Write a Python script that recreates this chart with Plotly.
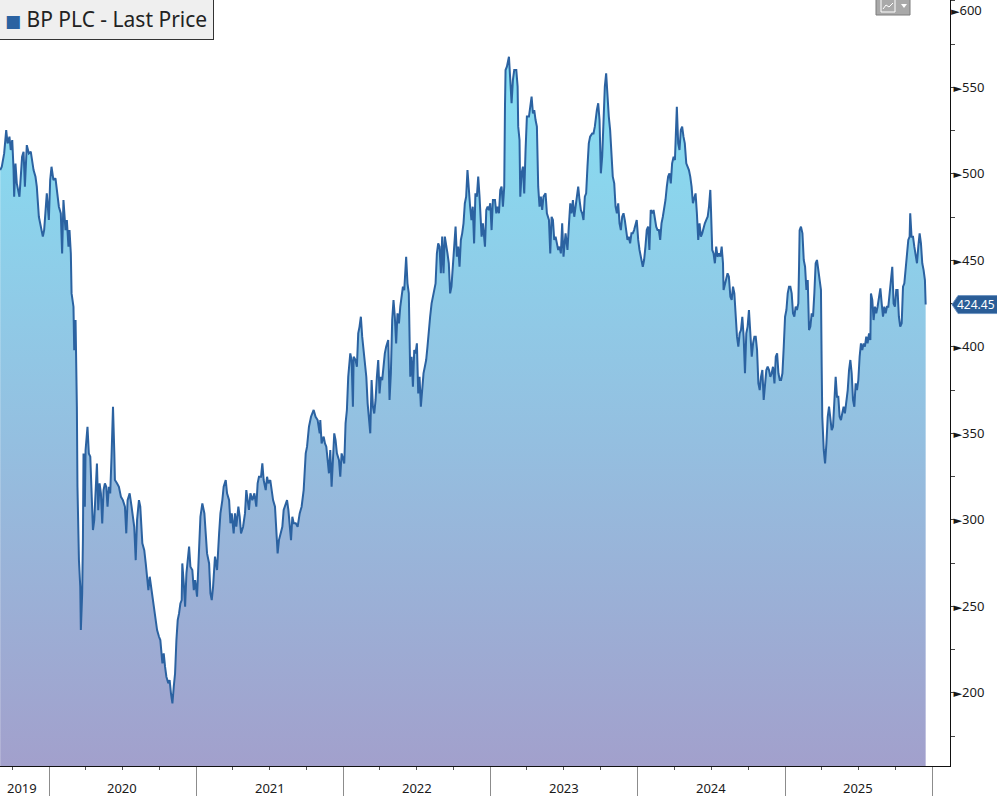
import plotly.graph_objects as go
from datetime import datetime, timedelta

# ---------------- data (time as fractional year, price in GBp) ----------------
t_2019_20 = [2019.667, 2019.678, 2019.694, 2019.708, 2019.717, 2019.730, 2019.739, 2019.749, 2019.758, 2019.762,
             2019.771, 2019.780, 2019.798, 2019.816, 2019.826, 2019.835, 2019.848, 2019.862, 2019.875, 2019.884,
             2019.894, 2019.907, 2019.916, 2019.930, 2019.939, 2019.948, 2019.957, 2019.966, 2019.975, 2019.984,
             2019.998, 2020.007, 2020.016, 2020.029, 2020.043, 2020.057, 2020.066, 2020.079, 2020.088, 2020.097,
             2020.111, 2020.120, 2020.131, 2020.138, 2020.147, 2020.152, 2020.165, 2020.170, 2020.179, 2020.188,
             2020.192, 2020.202, 2020.211, 2020.215, 2020.224, 2020.229, 2020.233, 2020.242, 2020.247, 2020.260,
             2020.269, 2020.279, 2020.288, 2020.297, 2020.306, 2020.315, 2020.324, 2020.333, 2020.342, 2020.351,
             2020.360, 2020.369, 2020.378, 2020.387, 2020.396, 2020.405, 2020.414, 2020.423, 2020.433, 2020.442,
             2020.446, 2020.460, 2020.473, 2020.487, 2020.500, 2020.514, 2020.523, 2020.532, 2020.546, 2020.559,
             2020.568, 2020.577, 2020.587, 2020.596, 2020.609, 2020.618, 2020.632, 2020.645, 2020.655, 2020.664,
             2020.673, 2020.682, 2020.691, 2020.704, 2020.713, 2020.722, 2020.732, 2020.745, 2020.754]
p_2019_20 = [502.2, 504.1, 511.8, 525.3, 517.6, 521.5, 513.8, 519.5, 502.2, 486.8,
             506.0, 494.5, 486.8, 509.9, 512.8, 492.6, 516.6, 511.8, 512.8, 506.0,
             502.2, 498.3, 492.6, 475.2, 471.4, 465.6, 463.7, 467.5, 481.0, 488.7,
             473.3, 496.4, 504.1, 496.4, 497.4, 484.9, 481.0, 477.1, 454.0, 484.9,
             467.5, 473.3, 457.9, 467.5, 454.0, 430.9, 423.2, 398.1, 415.5, 365.4,
             319.1, 276.7, 261.3, 236.3, 257.5, 288.3, 338.4, 307.6, 340.3, 353.8,
             338.4, 336.5, 313.3, 294.1, 299.9, 319.1, 332.6, 305.6, 321.1, 315.3,
             297.9, 317.2, 321.1, 319.1, 307.6, 319.1, 315.3, 336.5, 365.4, 338.4,
             323.0, 321.1, 319.1, 313.3, 311.4, 307.6, 292.2, 311.4, 315.3, 307.6,
             299.9, 296.0, 276.7, 299.9, 311.4, 307.6, 286.4, 282.5, 274.8, 265.2,
             259.4, 267.1, 261.3, 255.5, 249.8, 242.0, 236.3, 232.4, 230.5]

t_2020_21 = [2020.768, 2020.777, 2020.786, 2020.795, 2020.808, 2020.817, 2020.826, 2020.836, 2020.845, 2020.854,
             2020.863, 2020.872, 2020.881, 2020.890, 2020.899, 2020.903, 2020.913, 2020.922, 2020.931, 2020.940,
             2020.949, 2020.958, 2020.971, 2020.981, 2020.990, 2021.003, 2021.017, 2021.026, 2021.039, 2021.053,
             2021.062, 2021.071, 2021.085, 2021.094, 2021.103, 2021.112, 2021.125, 2021.139, 2021.153, 2021.162,
             2021.175, 2021.184, 2021.198, 2021.207, 2021.221, 2021.230, 2021.239, 2021.252, 2021.261, 2021.270,
             2021.284, 2021.293, 2021.302, 2021.316, 2021.329, 2021.338, 2021.347, 2021.356, 2021.366, 2021.379,
             2021.393, 2021.406, 2021.415, 2021.424, 2021.438, 2021.447, 2021.456, 2021.470, 2021.479, 2021.488,
             2021.501, 2021.511, 2021.520, 2021.533, 2021.542, 2021.551, 2021.560, 2021.574, 2021.583, 2021.592,
             2021.606, 2021.615, 2021.624, 2021.633, 2021.642, 2021.651, 2021.660, 2021.674, 2021.687, 2021.701,
             2021.714, 2021.728, 2021.742, 2021.751, 2021.764, 2021.778, 2021.796, 2021.809, 2021.823, 2021.837]
p_2020_21 = [217.0, 222.8, 215.1, 209.3, 205.5, 207.4, 199.7, 193.9, 203.5, 211.3,
             230.5, 242.1, 245.9, 251.7, 253.6, 274.8, 263.3, 249.8, 269.1, 276.8,
             284.5, 272.9, 271.0, 259.4, 265.2, 255.6, 288.3, 301.8, 309.5, 303.7,
             292.2, 280.6, 274.8, 257.5, 253.6, 261.3, 278.7, 271.0, 292.2, 303.7,
             311.4, 319.2, 323.0, 315.3, 311.4, 298.0, 303.7, 292.2, 303.7, 296.0,
             307.6, 301.8, 292.2, 296.0, 303.7, 317.2, 311.4, 305.7, 315.3, 311.4,
             315.3, 307.6, 321.1, 324.9, 324.9, 332.6, 323.0, 317.2, 324.9, 321.1,
             323.0, 317.2, 311.4, 307.6, 296.0, 280.6, 288.3, 292.2, 296.0, 305.7,
             309.5, 311.4, 305.7, 296.0, 288.3, 301.8, 298.0, 298.0, 296.0, 303.7,
             307.6, 317.2, 338.4, 342.3, 353.8, 359.6, 363.5, 359.6, 357.7, 350.0]

t_2021_22 = [2021.841, 2021.850, 2021.864, 2021.873, 2021.882, 2021.891, 2021.900, 2021.909, 2021.918, 2021.927,
             2021.936, 2021.945, 2021.954, 2021.968, 2021.977, 2021.986, 2021.995, 2022.004, 2022.013, 2022.022,
             2022.031, 2022.045, 2022.054, 2022.063, 2022.068, 2022.081, 2022.090, 2022.099, 2022.108, 2022.117,
             2022.126, 2022.135, 2022.145, 2022.154, 2022.163, 2022.172, 2022.181, 2022.190, 2022.199, 2022.208,
             2022.217, 2022.226, 2022.235, 2022.244, 2022.253, 2022.262, 2022.271, 2022.280, 2022.289, 2022.303,
             2022.312, 2022.321, 2022.330, 2022.339, 2022.348, 2022.357, 2022.366, 2022.376, 2022.385, 2022.394,
             2022.403, 2022.412, 2022.421, 2022.425, 2022.434, 2022.443, 2022.453, 2022.462, 2022.471, 2022.480,
             2022.489, 2022.498, 2022.507, 2022.516, 2022.525, 2022.534, 2022.543, 2022.552, 2022.561, 2022.570,
             2022.579, 2022.588, 2022.598, 2022.607, 2022.616, 2022.625, 2022.634, 2022.643, 2022.652, 2022.661,
             2022.670, 2022.679, 2022.688, 2022.697, 2022.706, 2022.715, 2022.724, 2022.733, 2022.742, 2022.752,
             2022.761, 2022.770, 2022.779, 2022.788, 2022.797, 2022.806, 2022.815, 2022.824, 2022.833, 2022.842,
             2022.851, 2022.860, 2022.869, 2022.878, 2022.887, 2022.896, 2022.906, 2022.915, 2022.924]
p_2021_22 = [357.7, 344.2, 348.1, 344.2, 342.3, 334.6, 326.9, 340.4, 319.2, 334.6,
             350.0, 346.1, 338.4, 334.6, 324.9, 338.4, 334.6, 332.6, 355.8, 363.5,
             382.7, 396.2, 392.4, 365.4, 394.3, 392.4, 388.5, 407.8, 411.7, 417.4,
             405.9, 398.2, 390.5, 382.7, 367.3, 357.7, 350.0, 380.8, 365.4, 361.5,
             369.3, 382.7, 392.4, 373.1, 382.7, 380.8, 390.5, 396.2, 400.1, 404.0,
             369.3, 384.7, 415.5, 427.1, 417.4, 402.0, 419.4, 413.6, 423.2, 429.0,
             434.8, 432.8, 450.2, 452.1, 436.7, 430.9, 382.7, 394.3, 377.0, 398.2,
             396.2, 402.0, 373.1, 382.7, 365.4, 377.0, 384.7, 388.5, 392.4, 400.1,
             411.7, 417.4, 425.1, 429.0, 430.9, 436.7, 454.0, 459.8, 457.9, 442.5,
             463.7, 442.5, 463.7, 459.8, 454.0, 448.3, 430.9, 434.8, 448.3, 459.8,
             469.5, 452.1, 457.9, 446.3, 461.8, 465.6, 471.4, 482.9, 486.8, 502.2,
             488.7, 481.0, 473.3, 481.0, 459.8, 488.7, 486.8, 498.4, 486.8]

t_2022_24 = [2022.938, 2022.947, 2022.961, 2022.970, 2022.979, 2022.988, 2022.997, 2023.006, 2023.015, 2023.029,
             2023.038, 2023.047, 2023.056, 2023.065, 2023.074, 2023.083, 2023.092, 2023.097, 2023.101, 2023.110,
             2023.124, 2023.133, 2023.142, 2023.151, 2023.160, 2023.174, 2023.183, 2023.187, 2023.196, 2023.201,
             2023.210, 2023.219, 2023.228, 2023.237, 2023.246, 2023.260, 2023.269, 2023.278, 2023.287, 2023.296,
             2023.305, 2023.314, 2023.323, 2023.332, 2023.341, 2023.350, 2023.359, 2023.373, 2023.382, 2023.396,
             2023.405, 2023.414, 2023.423, 2023.432, 2023.441, 2023.450, 2023.459, 2023.468, 2023.477, 2023.486,
             2023.495, 2023.509, 2023.522, 2023.531, 2023.541, 2023.550, 2023.559, 2023.568, 2023.577, 2023.586,
             2023.595, 2023.604, 2023.613, 2023.622, 2023.631, 2023.640, 2023.649, 2023.658, 2023.667, 2023.676,
             2023.690, 2023.699, 2023.708, 2023.722, 2023.731, 2023.740, 2023.749, 2023.758, 2023.767, 2023.776,
             2023.785, 2023.794, 2023.803, 2023.812, 2023.821, 2023.830, 2023.840, 2023.849, 2023.858, 2023.867,
             2023.876, 2023.885, 2023.894, 2023.903, 2023.912, 2023.921, 2023.930, 2023.939, 2023.948, 2023.957,
             2023.966, 2023.975, 2023.984, 2023.993, 2024.003, 2024.012]
p_2022_24 = [463.7, 471.4, 457.9, 479.1, 481.0, 479.1, 483.0, 467.5, 484.9, 484.9,
             477.2, 481.0, 477.2, 490.7, 492.6, 481.0, 492.6, 538.8, 560.0, 562.0,
             567.7, 554.3, 540.8, 554.3, 560.0, 560.0, 550.4, 527.3, 519.6, 486.8,
             500.3, 504.2, 488.7, 513.8, 533.1, 533.1, 540.8, 544.6, 535.0, 536.9,
             531.1, 527.3, 492.6, 481.0, 486.8, 479.1, 486.8, 488.7, 477.2, 473.3,
             454.0, 475.2, 473.3, 461.8, 463.7, 459.8, 456.0, 457.9, 454.0, 471.4,
             452.1, 465.6, 456.0, 469.5, 483.0, 477.2, 484.9, 475.2, 481.0, 488.7,
             492.6, 484.9, 479.1, 477.2, 473.3, 486.8, 488.7, 504.2, 517.6, 521.5,
             523.4, 523.4, 527.3, 536.9, 540.8, 531.1, 500.3, 509.9, 535.0, 550.4,
             558.1, 542.7, 533.1, 525.4, 509.9, 498.4, 494.5, 481.0, 477.2, 483.0,
             471.4, 467.5, 475.2, 477.2, 473.3, 465.6, 461.8, 463.7, 459.8, 465.6,
             465.6, 467.5, 471.4, 473.3, 461.8, 456.0]

t_2024_25 = [2024.034, 2024.043, 2024.052, 2024.061, 2024.070, 2024.079, 2024.088, 2024.098, 2024.107, 2024.116,
             2024.125, 2024.134, 2024.143, 2024.152, 2024.161, 2024.170, 2024.179, 2024.188, 2024.197, 2024.206,
             2024.215, 2024.224, 2024.233, 2024.243, 2024.252, 2024.256, 2024.265, 2024.274, 2024.283, 2024.292,
             2024.301, 2024.310, 2024.319, 2024.329, 2024.338, 2024.347, 2024.356, 2024.365, 2024.374, 2024.383,
             2024.392, 2024.401, 2024.410, 2024.419, 2024.428, 2024.437, 2024.446, 2024.455, 2024.464, 2024.474,
             2024.483, 2024.492, 2024.496, 2024.505, 2024.514, 2024.523, 2024.532, 2024.541, 2024.551, 2024.560,
             2024.569, 2024.578, 2024.582, 2024.591, 2024.600, 2024.609, 2024.618, 2024.628, 2024.637, 2024.646,
             2024.655, 2024.664, 2024.673, 2024.682, 2024.691, 2024.700, 2024.709, 2024.718, 2024.727, 2024.736,
             2024.745, 2024.754, 2024.763, 2024.773, 2024.782, 2024.791, 2024.800, 2024.809, 2024.818, 2024.827,
             2024.836, 2024.845, 2024.854, 2024.863, 2024.872, 2024.881, 2024.890, 2024.899, 2024.908, 2024.917,
             2024.927, 2024.936, 2024.945, 2024.954, 2024.963, 2024.972, 2024.981, 2024.990, 2024.999, 2025.008,
             2025.017, 2025.026]
p_2024_25 = [446.3, 450.2, 457.9, 467.5, 469.5, 456.0, 479.1, 477.2, 479.1, 473.3,
             469.5, 467.5, 467.5, 461.8, 471.4, 475.2, 479.1, 484.9, 492.6, 498.4,
             500.3, 494.5, 506.1, 509.9, 508.0, 521.5, 538.8, 517.6, 513.8, 525.4,
             527.3, 521.5, 517.6, 506.1, 504.2, 502.2, 498.4, 492.6, 483.0, 486.8,
             488.7, 477.2, 461.8, 471.4, 463.7, 465.6, 469.5, 471.4, 473.3, 475.2,
             481.0, 490.7, 481.0, 456.0, 454.0, 448.3, 457.9, 452.1, 454.0, 452.1,
             457.9, 448.3, 432.9, 436.7, 438.6, 442.5, 440.6, 429.0, 427.1, 434.8,
             430.9, 413.6, 405.9, 400.1, 407.8, 409.7, 417.4, 405.9, 384.7, 407.8,
             411.7, 421.3, 405.9, 394.3, 402.0, 405.9, 405.9, 398.2, 378.9, 375.0,
             382.7, 386.6, 369.3, 378.9, 386.6, 388.5, 386.6, 382.7, 384.7, 388.5,
             378.9, 394.3, 396.2, 384.7, 380.8, 380.8, 384.7, 400.1, 417.4, 421.3,
             430.9, 434.8]

t_2025 = [2025.035, 2025.044, 2025.053, 2025.062, 2025.071, 2025.080, 2025.089, 2025.094, 2025.098, 2025.107,
          2025.117, 2025.126, 2025.135, 2025.144, 2025.153, 2025.162, 2025.171, 2025.180, 2025.189, 2025.198,
          2025.207, 2025.216, 2025.225, 2025.234, 2025.243, 2025.248, 2025.252, 2025.262, 2025.271, 2025.280,
          2025.289, 2025.298, 2025.307, 2025.316, 2025.325, 2025.334, 2025.343, 2025.352, 2025.361, 2025.370,
          2025.379, 2025.388, 2025.397, 2025.406, 2025.416, 2025.425, 2025.434, 2025.443, 2025.452, 2025.461,
          2025.470, 2025.479, 2025.488, 2025.497, 2025.506, 2025.515, 2025.524, 2025.533, 2025.542, 2025.551,
          2025.560, 2025.570, 2025.579, 2025.583, 2025.592, 2025.601, 2025.610, 2025.619, 2025.628, 2025.637,
          2025.647, 2025.656, 2025.665, 2025.674, 2025.683, 2025.692, 2025.701, 2025.710, 2025.719, 2025.728,
          2025.737, 2025.746, 2025.755, 2025.764, 2025.773, 2025.782, 2025.792, 2025.801, 2025.810, 2025.819,
          2025.828, 2025.837, 2025.846, 2025.850, 2025.859, 2025.869, 2025.878, 2025.887, 2025.896, 2025.905,
          2025.914, 2025.923, 2025.932, 2025.941, 2025.950, 2025.955]
p_2025 = [434.8, 430.9, 419.4, 417.4, 423.2, 421.3, 425.1, 446.3, 467.5, 469.5,
          465.6, 450.2, 446.3, 432.9, 438.6, 409.7, 411.7, 419.4, 417.4, 430.9,
          448.3, 450.2, 444.4, 436.7, 432.9, 388.5, 359.6, 340.4, 332.6, 344.2,
          359.6, 365.4, 359.6, 351.9, 353.8, 367.3, 382.7, 371.2, 371.2, 359.6,
          357.7, 361.6, 365.4, 361.6, 369.3, 375.0, 386.6, 392.4, 384.7, 369.3,
          365.4, 378.9, 375.0, 380.8, 394.3, 402.0, 398.2, 402.0, 400.1, 405.9,
          402.0, 407.8, 403.9, 430.9, 427.1, 415.5, 423.2, 419.4, 423.2, 429.0,
          433.8, 425.1, 417.4, 423.2, 419.4, 423.2, 423.2, 430.9, 438.6, 446.3,
          425.1, 423.2, 432.9, 432.9, 417.4, 411.7, 413.6, 434.8, 436.7, 444.4,
          450.2, 461.8, 463.7, 477.2, 463.7, 463.7, 457.9, 454.0, 448.3, 457.9,
          465.6, 459.8, 448.3, 444.4, 438.6, 424.45]

last_price = 424.45
series_name = "BP PLC - Last Price"

year_boundaries = ["2020-01-01", "2021-01-01", "2022-01-01", "2023-01-01",
                   "2024-01-01", "2025-01-01", "2026-01-01"]
year_labels = ["2019", "2020", "2021", "2022", "2023", "2024", "2025"]
year_label_pos = ["2019-10-25", "2020-07-01", "2021-07-01", "2022-07-01",
                  "2023-07-01", "2024-07-01", "2025-07-01"]
y_tick_vals = [200, 250, 300, 350, 400, 450, 500, 550, 600]


# ---------------- helpers ----------------
def frac_to_date(t):
    y = int(t)
    start = datetime(y, 1, 1)
    ndays = (datetime(y + 1, 1, 1) - start).days
    return start + timedelta(days=(t - y) * ndays)


t_all = t_2019_20 + t_2020_21 + t_2021_22 + t_2022_24 + t_2024_25 + t_2025
p_all = p_2019_20 + p_2020_21 + p_2021_22 + p_2022_24 + p_2024_25 + p_2025
n = min(len(t_all), len(p_all))
dates = [frac_to_date(t) for t in t_all[:n]]
prices = p_all[:n]

LINE = "#2b62a1"
FONT = "Noto Sans, Open Sans, DejaVu Sans, sans-serif"
Y_MIN, Y_MAX = 157.7, 600.5

fig = go.Figure()
fig.add_trace(go.Scatter(
    x=dates, y=prices, mode="lines", name=series_name,
    line=dict(color=LINE, width=2),
    fill="tozeroy",
    fillgradient=dict(type="vertical", start=Y_MIN, stop=575,
                      colorscale=[[0, "#a2a0cc"], [0.45, "#94bfe0"], [1, "#86e1f4"]]),
    showlegend=False, hoverinfo="skip",
))

tri = '<span style="font-size:11px">►</span>'
top_tick = y_tick_vals[-1]
# the top tick sits on the very edge of the page: its label is written as an
# annotation just below the edge so it stays fully readable
y_tick_text = [tri + str(v) if v != top_tick else "" for v in y_tick_vals]

fig.update_layout(
    width=997, height=796,
    margin=dict(l=0, r=47, t=0, b=30, autoexpand=False),
    paper_bgcolor="white", plot_bgcolor="white",
    font=dict(family=FONT, color="#222222", size=13),
    xaxis=dict(
        type="date", range=["2019-09-01", "2026-02-14"], automargin=False,
        tickmode="array", tickvals=year_boundaries, showticklabels=False,
        ticks="outside", ticklen=30, tickcolor="#8c8c8c", tickwidth=1,
        showline=True, linecolor="#111111", linewidth=1,
        showgrid=False, zeroline=False,
        minor=dict(dtick="M3", tick0="2019-01-01", ticks="outside", ticklen=3,
                   tickcolor="#555555", tickwidth=1, showgrid=False),
    ),
    yaxis=dict(
        side="right", range=[Y_MIN, Y_MAX], automargin=False,
        tickmode="array", tickvals=y_tick_vals, ticktext=y_tick_text,
        ticks="", ticklabelstandoff=0,
        tickfont=dict(size=13, color="#1a1a1a"),
        showline=True, linecolor="#111111", linewidth=1,
        showgrid=False, zeroline=False,
        minor=dict(dtick=25, tick0=0, ticks="outside", ticklen=4,
                   tickcolor="#444444", tickwidth=1, showgrid=False),
    ),
    hovermode=False,
)

annotations = []
for lab, pos in zip(year_labels, year_label_pos):
    annotations.append(dict(x=pos, xref="x", y=0, yref="paper", yanchor="top", yshift=-11,
                            text=lab, showarrow=False, font=dict(size=13, color="#1a1a1a")))

annotations.append(dict(
    x=1, xref="paper", xanchor="left", xshift=0,
    y=1, yref="paper", yanchor="top", yshift=0, borderpad=0,
    text=tri + str(top_tick), showarrow=False,
    font=dict(size=13, color="#1a1a1a", family=FONT),
))

annotations.append(dict(
    x=0, xref="paper", xanchor="left", xshift=-2,
    y=1, yref="paper", yanchor="top", yshift=2,
    text='<span style="color:%s;font-size:17px">■</span> %s' % (LINE, series_name),
    showarrow=False, font=dict(size=21, color="#222222", family=FONT),
    bgcolor="#efefef", bordercolor="#333333", borderwidth=1, borderpad=6,
))

annotations.append(dict(
    x=1, xref="paper", xanchor="left", xshift=5,
    y=last_price, yref="y", yanchor="middle",
    text="%.2f" % last_price, showarrow=False,
    font=dict(size=12, color="white", family=FONT),
))
fig.update_layout(annotations=annotations)

shapes = [
    # last price tag
    dict(type="path", xref="paper", xsizemode="pixel", xanchor=1,
         yref="y", ysizemode="pixel", yanchor=last_price,
         path="M 2 0 L 8 -9 L 60 -9 L 60 9 L 8 9 Z",
         fillcolor="#2a5d97", line=dict(color="#6f95c2", width=1), layer="above"),
    # chart-type icon in the top-right corner
    dict(type="rect", xref="paper", xsizemode="pixel", xanchor=1, x0=-74, x1=-40,
         yref="paper", ysizemode="pixel", yanchor=1, y0=-15, y1=3,
         fillcolor="#a9a9a9", line=dict(color="#7d7d7d", width=1)),
    dict(type="rect", xref="paper", xsizemode="pixel", xanchor=1, x0=-69, x1=-55,
         yref="paper", ysizemode="pixel", yanchor=1, y0=-12, y1=2,
         fillcolor="rgba(0,0,0,0)", line=dict(color="white", width=1)),
    dict(type="path", xref="paper", xsizemode="pixel", xanchor=1,
         yref="paper", ysizemode="pixel", yanchor=1,
         path="M -67 -9 L -64 -5 L -61 -7 L -57 -3",
         line=dict(color="white", width=1)),
    dict(type="path", xref="paper", xsizemode="pixel", xanchor=1,
         yref="paper", ysizemode="pixel", yanchor=1,
         path="M -49 -4 L -43 -4 L -46 -8 Z",
         fillcolor="white", line=dict(color="white", width=0)),
]
fig.update_layout(shapes=shapes)

fig.write_html("out.html",
               config={"displayModeBar": False, "staticPlot": True},
               post_script="document.body.style.margin='0';document.body.style.overflow='hidden';")
